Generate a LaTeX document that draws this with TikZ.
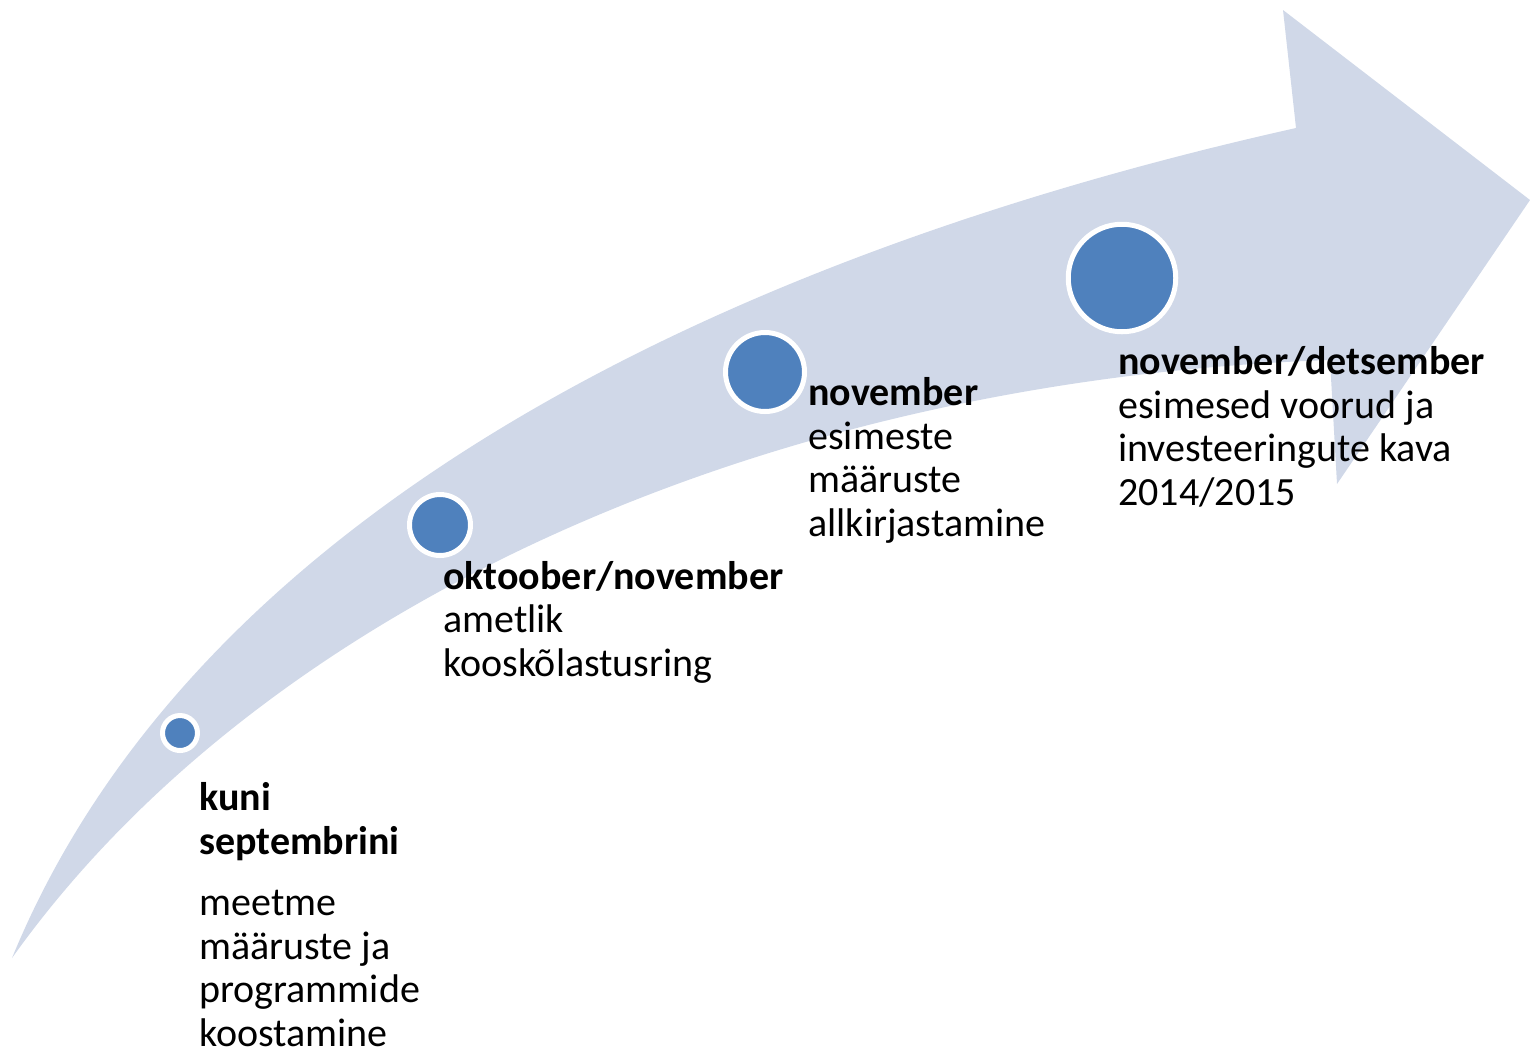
\documentclass[tikz,border=0pt]{standalone}
\usepackage{fontspec}
\setmainfont{Carlito}
\definecolor{band}{RGB}{208,216,232}
\definecolor{dot}{RGB}{79,129,189}
\begin{document}
\begin{tikzpicture}[x=0.5pt,y=-0.5pt,
  dotnode/.style={circle,fill=dot,draw=white,inner sep=0pt,line width=2.5pt},
  label/.style={anchor=base west,align=left,inner sep=0pt,text=black,
    font=\fontsize{20}{21.75}\selectfont}]
\useasboundingbox (0,0) rectangle (1530,1051);
% curved arrow
\fill[band] (12,958) .. controls (200,500) and (750,250) .. (1296,128)
  -- (1283,10) -- (1530,200) -- (1337,484) -- (1330,360)
  .. controls (760,380) and (260,610) .. (12,958) -- cycle;
% dots
\node[dotnode,minimum size=17.5pt] (c1) at (180,733) {};
\node[dotnode,minimum size=30.5pt] (c2) at (440,525) {};
\node[dotnode,minimum size=39.5pt] (c3) at (765,372) {};
\node[dotnode,minimum size=53.75pt] (c4) at (1122,278) {};
% labels (anchored at the baseline of the last line)
\node[label] (t1) at (199,1046) {\textbf{kuni}\\\textbf{septembrini}\\[9pt]meetme\\määruste ja\\programmide\\koostamine};
\node[label] (t2) at (443,676) {\textbf{oktoober/november}\\ametlik\\kooskõlastusring};
\node[label] (t3) at (808,536) {\textbf{november}\\esimeste\\määruste\\allkirjastamine};
\node[label] (t4) at (1118,505) {\textbf{november/detsember}\\esimesed voorud ja\\investeeringute kava\\2014/2015};
\end{tikzpicture}
\end{document}
